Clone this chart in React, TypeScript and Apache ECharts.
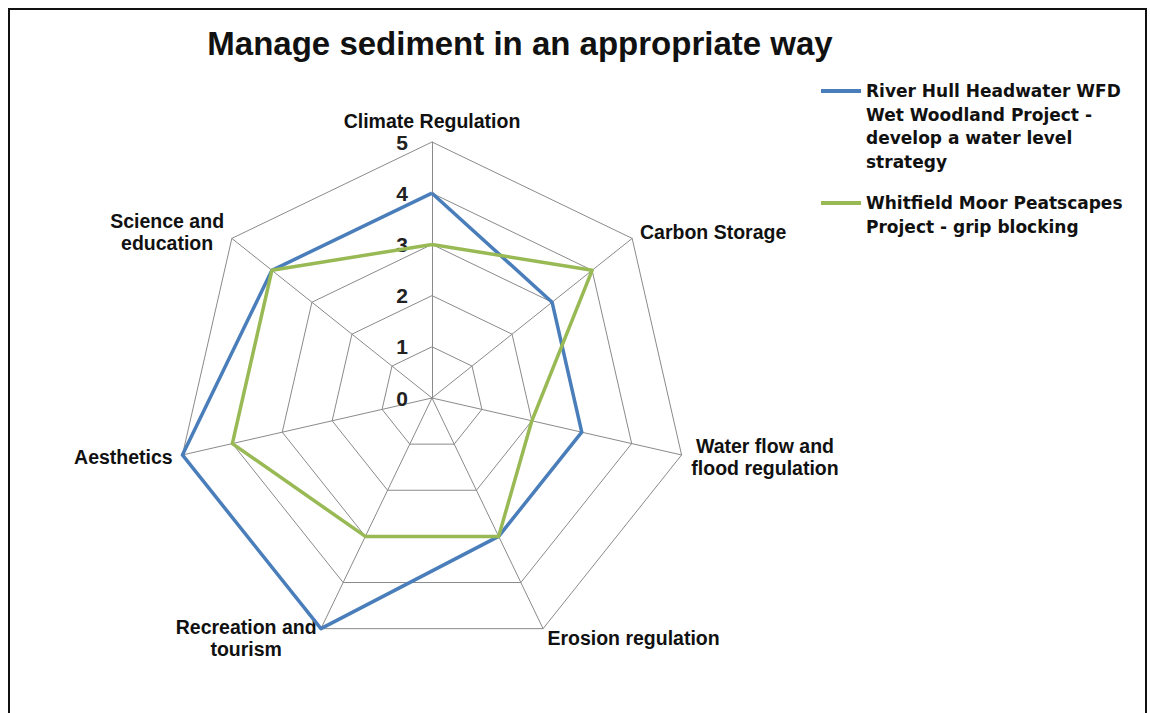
import React, { useEffect, useRef } from "react";
import * as echarts from "echarts";

// Axes in clockwise order starting from the top
const categories = [
  "Climate Regulation",
  "Carbon Storage",
  "Water flow and\nflood regulation",
  "Erosion regulation",
  "Recreation and\ntourism",
  "Aesthetics",
  "Science and\neducation",
];
const riverHull = [4, 3, 3, 3, 5, 5, 4];
const whitfield = [3, 4, 2, 3, 3, 4, 4];
const seriesNames = [
  "River Hull Headwater WFD\nWet Woodland Project -\ndevelop a water level\nstrategy",
  "Whitfield Moor Peatscapes\nProject - grip blocking",
];
const tickMax = 5;

const BLUE = "#4A7EBB";
const GREEN = "#98B954";

// ECharts radar runs counter-clockwise; reorder to get the clockwise layout
const order = [0, ...categories.slice(1).map((_, i) => categories.length - 1 - i)];

export default function App() {
  const ref = useRef<HTMLDivElement>(null);
  useEffect(() => {
    if (!ref.current) return;
    const chart = echarts.init(ref.current, null, { renderer: "svg" });
    const font = "'Liberation Sans', Arial, sans-serif";
    const legendFont = "'DejaVu Sans', 'Liberation Sans', sans-serif";
    const lh = 23.5;
    const h1 = 2 * (2 + 1.5 * lh);
    const h2 = 2 * (2 + 0.5 * lh);
    const icon = (h: number) =>
      `path://M0,0L40,0L40,4L0,4Z M0,${h - 0.01}L0.01,${h - 0.01}L0.01,${h}L0,${h}Z`;
    const legendBase = {
      orient: "vertical" as const,
      left: 821,
      padding: 0,
      itemWidth: 40,
      itemGap: 0,
      selectedMode: false,
      itemStyle: { borderWidth: 0 },
      textStyle: {
        fontFamily: legendFont,
        fontWeight: "bold" as const,
        fontSize: 17,
        lineHeight: lh,
        color: "#111",
      },
    };
    const nameStyle = {
      fontFamily: font,
      fontWeight: "bold" as const,
      fontSize: 19.5,
      lineHeight: 22,
      color: "#111",
    };
    chart.setOption({
      animation: false,
      backgroundColor: "#fff",
      title: {
        text: "Manage sediment in an appropriate way",
        left: 520,
        top: 27,
        textAlign: "center",
        padding: 0,
        textStyle: {
          fontFamily: font,
          fontWeight: "bold",
          fontSize: 33,
          color: "#111",
        },
      },
      legend: [
        {
          ...legendBase,
          top: 91 - lh / 2,
          itemHeight: h1,
          data: [{ name: seriesNames[0], icon: icon(h1) }],
        },
        {
          ...legendBase,
          top: 203 - lh / 2,
          itemHeight: h2,
          data: [{ name: seriesNames[1], icon: icon(h2) }],
        },
      ],
      radar: {
        center: [432, 398],
        radius: 256,
        startAngle: 90,
        shape: "polygon",
        splitNumber: 5,
        nameGap: 10,
        axisName: {
          ...nameStyle,
          formatter: (name: string) =>
            name
              .split("\n")
              .map((s) => `{c|${s}}`)
              .join("\n"),
          rich: { c: { ...nameStyle, align: "center" } },
        },
        splitLine: { lineStyle: { color: "#8a8a8a", width: 1 } },
        splitArea: { show: false },
        axisLine: { lineStyle: { color: "#8a8a8a", width: 1 } },
        axisTick: { show: false },
        axisLabel: { show: false },
        indicator: order.map((k, i) => ({
          name: categories[k],
          min: 0,
          max: tickMax,
          ...(i === 0
            ? {
                axisLabel: {
                  show: true,
                  margin: 24,
                  color: "#222",
                  fontFamily: font,
                  fontWeight: "bold",
                  fontSize: 21,
                },
              }
            : {}),
        })),
      },
      series: [
        {
          type: "radar",
          symbol: "none",
          data: [
            {
              name: seriesNames[0],
              value: order.map((k) => riverHull[k]),
              lineStyle: { color: BLUE, width: 3.5 },
              itemStyle: { color: BLUE },
            },
            {
              name: seriesNames[1],
              value: order.map((k) => whitfield[k]),
              lineStyle: { color: GREEN, width: 3.5 },
              itemStyle: { color: GREEN },
            },
          ],
        },
      ],
      graphic: [
        {
          type: "rect",
          shape: { x: 9, y: 9, width: 1137, height: 720 },
          style: { fill: "none", stroke: "#111", lineWidth: 2 },
          silent: true,
        },
      ],
    });
    return () => chart.dispose();
  }, []);
  return (
    <div
      ref={ref}
      style={{ position: "fixed", left: 0, top: 0, width: 1150, height: 713 }}
    />
  );
}
